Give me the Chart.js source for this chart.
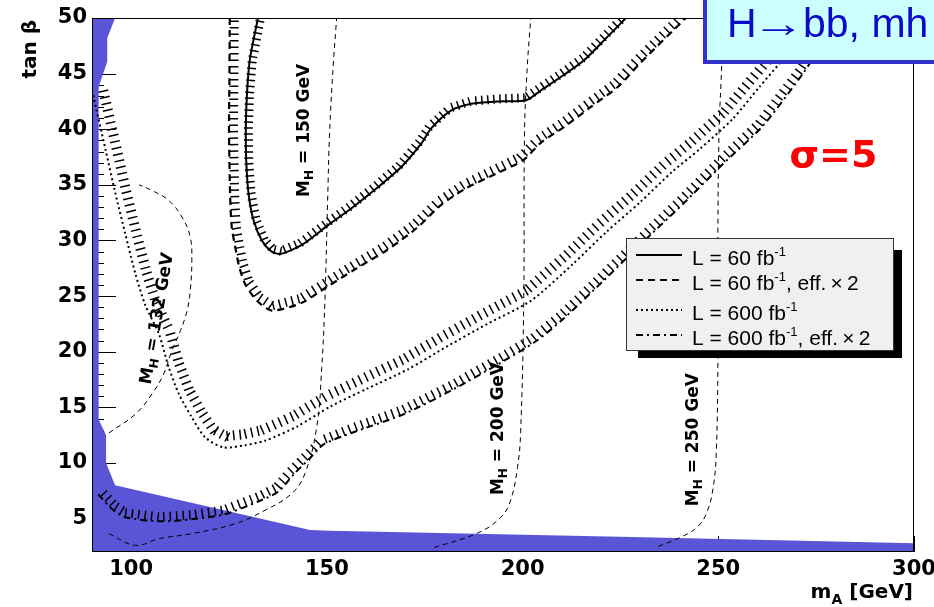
<!DOCTYPE html>
<html>
<head>
<meta charset="utf-8">
<script src="https://cdn.jsdelivr.net/npm/chart.js@4.4.0/dist/chart.umd.min.js"></script>
<style>
  html, body { margin: 0; padding: 0; background: #fff; }
  canvas { display: block; }
</style>
</head>
<body>
<canvas id="chart" width="934" height="607" style="width:934px;height:607px"></canvas>
<script>
// Axis ticks
const xTicks = [100, 150, 200, 250, 300];
const yTicks = [5, 10, 15, 20, 25, 30, 35, 40, 45, 50];

// 5 sigma contours, m_A [GeV] vs tan(beta)
const lumi60MA = [132.4, 130.3, 129.6, 129.3, 129.4, 130.0, 131.3, 133.4, 135.9, 138.2, 143.6, 150.4, 156.3, 163.1, 169.0, 174.1, 176.7, 181.8, 186.9, 193.7, 200.9, 204.7, 210.6, 215.7, 221.1, 226.4];
const lumi60TB = [50.0, 46.2, 43.2, 40.2, 37.2, 34.2, 31.8, 30.0, 29.0, 28.8, 29.6, 31.4, 32.9, 34.8, 36.6, 38.7, 40.1, 41.7, 42.3, 42.5, 42.6, 43.5, 44.9, 46.2, 48.1, 50.0];

const lumi60x2MA = [125.2, 125.1, 125.0, 125.3, 125.7, 126.6, 127.5, 129.1, 132.1, 135.9, 143.6, 149.9, 157.6, 165.2, 172.9, 179.2, 185.6, 193.2, 200.1, 204.7, 211.0, 217.4, 224.3, 230.2, 241.7];
const lumi60x2TB = [50.0, 44.4, 39.9, 33.9, 31.2, 29.4, 27.8, 26.1, 24.6, 23.7, 24.4, 25.8, 27.5, 29.1, 31.1, 33.2, 34.7, 36.0, 37.2, 38.8, 40.3, 42.0, 43.8, 46.0, 50.0];

const lumi600MA = [90.0, 93.5, 96.0, 98.5, 101.1, 103.6, 107.1, 109.6, 112.2, 115.5, 118.9, 123.6, 129.1, 134.2, 142.5, 151.0, 160.4, 170.6, 180.8, 191.0, 202.2, 212.9, 221.5, 229.9, 238.3, 245.2, 253.6, 260.5, 265.6, 273.2, 275.5];
const lumi600TB = [43.5, 38.1, 34.2, 30.6, 27.0, 24.2, 21.6, 18.6, 16.2, 14.1, 12.3, 11.4, 11.6, 12.0, 13.3, 15.1, 16.7, 18.4, 20.5, 22.5, 24.6, 27.9, 30.8, 33.4, 36.2, 38.2, 40.9, 43.8, 45.9, 49.2, 50.0];

const lumi600x2MA = [91.6, 95.2, 98.5, 107.1, 115.5, 123.9, 132.6, 137.7, 141.5, 145.4, 149.2, 156.8, 169.6, 182.3, 195.0, 203.4, 210.3, 220.5, 230.7, 240.9, 251.1, 261.3, 271.5, 276.6, 281.1];
const lumi600x2TB = [7.18, 5.84, 5.12, 4.76, 4.94, 5.39, 6.56, 7.45, 8.98, 10.33, 11.68, 12.76, 14.38, 16.62, 19.14, 20.94, 22.92, 26.33, 29.84, 33.26, 36.85, 40.27, 44.95, 47.64, 50.0];

// M_H iso-mass lines
const mh132MA = [94.3, 101.1, 105.3, 108.3, 110.4, 112.6, 114.3, 115.1, 115.5, 115.1, 113.0, 109.6, 105.3, 102.0];
const mh132TB = [12.7, 14.4, 16.2, 18.0, 20.1, 21.9, 23.7, 25.5, 28.2, 30.3, 32.1, 33.6, 34.5, 35.0];
const mh150MA = [94.3, 101.1, 107.1, 115.5, 126.6, 134.2, 141.0, 144.4, 147.4, 148.7, 149.5, 150.2, 150.7, 151.6, 152.5];
const mh150TB = [3.65, 2.6, 3.2, 3.65, 4.55, 5.75, 7.25, 9.05, 13.2, 18.6, 24.6, 33.6, 39.7, 45.6, 50.0];
const mh200MA = [177.4, 188.5, 194.4, 196.9, 198.7, 199.5, 200.3, 200.5, 201.2, 202.1];
const mh200TB = [2.4, 3.7, 5.1, 6.6, 9.6, 12.7, 24.6, 39.7, 45.6, 50.0];
const mh250MA = [234.7, 240.2, 244.5, 247.0, 248.7, 249.5, 249.9, 249.9, 250.2, 250.9, 251.2];
const mh250TB = [2.5, 3.3, 4.2, 5.5, 7.8, 11.1, 19.2, 30.7, 39.7, 46.0, 50.0];

// theoretically excluded region (upper edge)
const excludedMA = [90, 95.9, 93.9, 93.9, 91.7, 91.7, 93.6, 93.6, 95.9, 145.7, 150.8, 224.9, 300];
const excludedTB = [50.0, 50.0, 48.2, 46.1, 43.8, 13.9, 12.5, 10.0, 8.0, 3.98, 3.9, 3.38, 2.78];

const legendText = ['L = 60 fb', 'L = 60 fb', 'L = 600 fb', 'L = 600 fb'];
const legendTail = ['', ', eff.\u2009\u00d7\u20092', '', ', eff.\u2009\u00d7\u20092'];
const mhMasses = ['132', '150', '200', '250'];

function pts(xs, ys) {
  return xs.map((v, i) => ({ x: v, y: ys[i] }));
}

const mhStyle = { borderColor: '#000', borderWidth: 1, borderDash: [5, 4], pointRadius: 0, tension: 0.4, fill: false };

// perpendicular hatch marks along a contour
function drawHatch(ctx, points, h) {
  ctx.strokeStyle = '#000';
  ctx.lineWidth = h.width;
  ctx.beginPath();
  let carry = h.step / 2;
  for (let i = 0; i < points.length - 1; i++) {
    const p = points[i], q = points[i + 1];
    const dx = q.x - p.x, dy = q.y - p.y;
    const len = Math.hypot(dx, dy);
    if (!len) continue;
    const ux = dx / len, uy = dy / len;
    const nx = uy, ny = -ux;
    let t = carry;
    for (; t < len; t += h.step) {
      const bx = p.x + ux * t, by = p.y + uy * t;
      ctx.moveTo(bx + nx * h.off, by + ny * h.off);
      ctx.lineTo(bx + nx * (h.off + h.len), by + ny * (h.off + h.len));
    }
    carry = t - len;
  }
  ctx.stroke();
}

function drawMH(ctx, cx, cy, ang, mass) {
  const big = 'bold 17px "DejaVu Sans"', small = 'bold 12px "DejaVu Sans"';
  const rest = ' = ' + mass + ' GeV';
  ctx.save();
  ctx.translate(cx, cy);
  ctx.rotate(ang);
  ctx.fillStyle = '#000';
  ctx.textBaseline = 'alphabetic';
  ctx.textAlign = 'left';
  ctx.font = big;
  const wM = ctx.measureText('M').width, wR = ctx.measureText(rest).width;
  ctx.font = small;
  const wH = ctx.measureText('H').width;
  const x0 = -(wM + wH + wR) / 2;
  ctx.font = big; ctx.fillText('M', x0, 6);
  ctx.font = small; ctx.fillText('H', x0 + wM, 10);
  ctx.font = big; ctx.fillText(rest, x0 + wM + wH, 6);
  ctx.restore();
}

const overlay = {
  id: 'overlay',
  beforeDatasetsDraw(chart) {
    const { ctx, chartArea: a, scales: { x, y } } = chart;
    ctx.save();
    ctx.strokeStyle = '#000';
    ctx.lineWidth = 1;
    ctx.beginPath();
    for (let v = 3; v < 50; v++) {
      const py = Math.round(y.getPixelForValue(v)) + 0.5;
      ctx.moveTo(a.left, py);
      ctx.lineTo(a.left + (yTicks.includes(v) ? 24 : 12), py);
    }
    xTicks.forEach(v => {
      const px = Math.round(x.getPixelForValue(v)) + 0.5;
      ctx.moveTo(px, a.bottom);
      ctx.lineTo(px, a.bottom - 16);
    });
    ctx.stroke();
    ctx.restore();

    drawMH(ctx, x.getPixelForValue(106.3), y.getPixelForValue(23.0), -1.40, mhMasses[0]);
    drawMH(ctx, x.getPixelForValue(143.9), y.getPixelForValue(39.9), -Math.PI / 2, mhMasses[1]);
    drawMH(ctx, x.getPixelForValue(193.5), y.getPixelForValue(13.1), -Math.PI / 2, mhMasses[2]);
    drawMH(ctx, x.getPixelForValue(243.3), y.getPixelForValue(12.1), -Math.PI / 2, mhMasses[3]);
  },
  afterDatasetDraw(chart, args) {
    const h = chart.data.datasets[args.index].hatch;
    if (!h) return;
    const { ctx, chartArea: a } = chart;
    ctx.save();
    ctx.beginPath();
    ctx.rect(a.left, a.top, a.right - a.left, a.bottom - a.top);
    ctx.clip();
    drawHatch(ctx, args.meta.data.map(p => ({ x: p.x, y: p.y })), h);
    ctx.restore();
  },
  afterDraw(chart) {
    const { ctx, chartArea: a, scales: { x, y } } = chart;
    ctx.save();
    // frame
    ctx.strokeStyle = '#000';
    ctx.lineWidth = 1;
    ctx.strokeRect(a.left + 0.5, a.top + 0.5, a.right - a.left - 1, a.bottom - a.top - 1);

    // axis titles
    ctx.fillStyle = '#000';
    ctx.textBaseline = 'alphabetic';
    ctx.save();
    ctx.translate(36, 20);
    ctx.rotate(-Math.PI / 2);
    ctx.textAlign = 'right';
    ctx.font = 'bold 20px "DejaVu Sans"';
    ctx.fillText('tan \u03b2', 0, 0);
    ctx.restore();

    ctx.textAlign = 'left';
    const big = 'bold 20px "DejaVu Sans"', small = 'bold 14px "DejaVu Sans"';
    ctx.font = big;
    const wm = ctx.measureText('m').width, wg = ctx.measureText(' [GeV]').width;
    ctx.font = small;
    const wa = ctx.measureText('A').width;
    const tx = 913 - (wm + wa + wg);
    ctx.font = big; ctx.fillText('m', tx, 598);
    ctx.font = small; ctx.fillText('A', tx + wm, 604);
    ctx.font = big; ctx.fillText(' [GeV]', tx + wm + wa, 598);

    // sigma label
    ctx.fillStyle = '#ff0000';
    ctx.font = 'bold 38px "DejaVu Sans"';
    ctx.fillText('\u03c3=5', x.getPixelForValue(268.2), y.getPixelForValue(36.6));

    // legend
    ctx.fillStyle = '#000';
    ctx.fillRect(638, 250, 264, 108);
    ctx.fillStyle = '#f0f0f0';
    ctx.fillRect(626, 238, 268, 113);
    ctx.strokeStyle = '#333';
    ctx.lineWidth = 1;
    ctx.strokeRect(626.5, 238.5, 267, 112);
    const base = [265, 290, 320, 345];
    legendText.forEach((t, i) => {
      const ds = chart.data.datasets[i];
      ctx.strokeStyle = '#000';
      ctx.lineWidth = ds.borderWidth;
      ctx.setLineDash(ds.borderDash || []);
      ctx.beginPath();
      ctx.moveTo(636, base[i] - 10);
      ctx.lineTo(682, base[i] - 10);
      ctx.stroke();
      ctx.setLineDash([]);
      ctx.fillStyle = '#000';
      ctx.font = '21px "Liberation Sans"';
      ctx.fillText(t, 692, base[i]);
      let lx = 692 + ctx.measureText(t).width;
      ctx.font = '13px "Liberation Sans"';
      ctx.fillText('-1', lx, base[i] - 9);
      lx += ctx.measureText('-1').width;
      ctx.font = '21px "Liberation Sans"';
      ctx.fillText(legendTail[i], lx, base[i]);
    });

    // title box
    ctx.fillStyle = '#ccffff';
    ctx.fillRect(705, -10, 240, 72);
    ctx.strokeStyle = '#3333cc';
    ctx.lineWidth = 4;
    ctx.strokeRect(705, -10, 240, 72);
    ctx.fillStyle = '#0a0ac8';
    ctx.font = '41px "Liberation Sans"';
    ctx.fillText('H', 727, 37);
    ctx.save();
    ctx.translate(752, 37);
    ctx.scale(1.3, 1);
    ctx.fillText('\u2192', 0, 0);
    ctx.restore();
    ctx.fillText('bb, mh', 803, 37);
    ctx.restore();
  }
};

const tickFont = { family: '"DejaVu Sans"', size: 21, weight: 'bold' };

new Chart(document.getElementById('chart').getContext('2d'), {
  type: 'line',
  data: {
    datasets: [
      { label: 'L = 60 fb-1', data: pts(lumi60MA, lumi60TB), borderColor: '#000', borderWidth: 2, pointRadius: 0, tension: 0.25, fill: false,
        hatch: { off: -2, len: 9, step: 6, width: 1.5 } },
      { label: 'L = 60 fb-1, eff. x 2', data: pts(lumi60x2MA, lumi60x2TB), borderColor: '#000', borderWidth: 2.2, borderDash: [7, 5], pointRadius: 0, tension: 0.25, fill: false,
        hatch: { off: 0, len: 9, step: 6.5, width: 1.5 } },
      { label: 'L = 600 fb-1', data: pts(lumi600MA, lumi600TB), borderColor: '#000', borderWidth: 2, borderDash: [2, 3], pointRadius: 0, tension: 0.25, fill: false,
        hatch: { off: 6, len: 10, step: 6.5, width: 1.5 } },
      { label: 'L = 600 fb-1, eff. x 2', data: pts(lumi600x2MA, lumi600x2TB), borderColor: '#000', borderWidth: 2, borderDash: [7, 4, 2, 4], pointRadius: 0, tension: 0.25, fill: false,
        hatch: { off: 0, len: 9, step: 6.5, width: 1.5 } },
      Object.assign({ label: 'MH 132', data: pts(mh132MA, mh132TB) }, mhStyle),
      Object.assign({ label: 'MH 150', data: pts(mh150MA, mh150TB) }, mhStyle),
      Object.assign({ label: 'MH 200', data: pts(mh200MA, mh200TB) }, mhStyle),
      Object.assign({ label: 'MH 250', data: pts(mh250MA, mh250TB) }, mhStyle),
      { label: 'excluded', data: pts(excludedMA, excludedTB), borderWidth: 0, borderColor: 'rgba(0,0,0,0)', backgroundColor: '#5a55d6',
        pointRadius: 0, tension: 0, fill: 'start' }
    ]
  },
  options: {
    responsive: false,
    animation: false,
    events: [],
    layout: { padding: { top: 18, right: 20, left: 0, bottom: 0 } },
    plugins: { legend: { display: false }, tooltip: { enabled: false } },
    scales: {
      x: {
        type: 'linear', min: 90, max: 300,
        afterBuildTicks: s => { s.ticks = xTicks.map(v => ({ value: v })); },
        afterFit: s => { s.height = 55; s.paddingLeft = 0; s.paddingRight = 0; },
        grid: { display: false, drawTicks: false },
        border: { display: false },
        ticks: { color: '#000', padding: 5, font: tickFont, maxRotation: 0, autoSkip: false }
      },
      y: {
        type: 'linear', min: 2, max: 50,
        afterBuildTicks: s => { s.ticks = yTicks.map(v => ({ value: v })); },
        afterFit: s => { s.width = 92; },
        grid: { display: false, drawTicks: false },
        border: { display: false },
        ticks: { color: '#000', padding: 5, font: tickFont, autoSkip: false }
      }
    }
  },
  plugins: [overlay]
});
</script>
</body>
</html>
